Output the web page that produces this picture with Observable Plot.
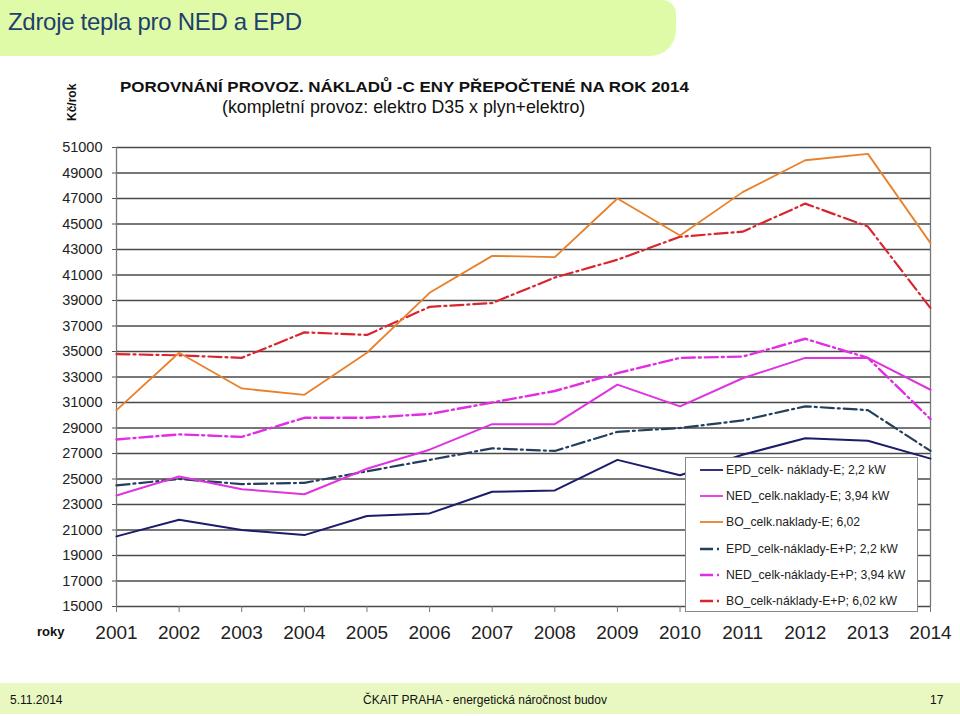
<!DOCTYPE html>
<html>
<head>
<meta charset="utf-8">
<script src="https://cdn.jsdelivr.net/npm/d3@7"></script>
<script src="https://cdn.jsdelivr.net/npm/@observablehq/plot@0.6"></script>
<style>
  html, body { margin: 0; padding: 0; background: #fff; }
  body { width: 960px; height: 716px; position: relative; overflow: hidden; font-family: "Liberation Sans", Arial, sans-serif; }
  #header { position: absolute; left: 0; top: 0; width: 676px; height: 56px; background: #e0fba8; border-radius: 0 14px 26px 0; }
  #header span { position: absolute; left: 8px; top: 8px; font-size: 24px; color: #1f3f6e; letter-spacing: -0.3px; }
  #ctitle { position: absolute; left: 120px; top: 78px; font-size: 15px; font-weight: bold; color: #111; white-space: nowrap; transform: scaleX(1.13); transform-origin: 0 0; }
  #csub { position: absolute; left: 222px; top: 97px; font-size: 17.8px; color: #111; white-space: nowrap; }
  #unit { position: absolute; left: 65px; top: 121px; font-size: 12px; font-weight: bold; color: #111; transform: rotate(-90deg); transform-origin: 0 0; white-space: nowrap; }
  #roky { position: absolute; left: 37px; top: 624px; font-size: 13px; font-weight: bold; color: #111; }
  #chart { position: absolute; left: 0; top: 120px; }
  #legend { position: absolute; left: 685px; top: 457px; width: 233px; height: 155px; background: #fff; border: 1px solid #888; box-sizing: border-box; }
  .row { position: absolute; left: 14px; height: 16px; display: flex; align-items: center; font-size: 12.2px; color: #222; white-space: nowrap; }
  .row svg { margin-right: 2px; }
  #footer { position: absolute; left: 0; top: 683px; width: 960px; height: 31px; background: #e8f8c0; font-size: 12px; color: #111; }
  #footer span { position: absolute; top: 10px; }
</style>
</head>
<body>
<div id="header"><span>Zdroje tepla pro NED a EPD</span></div>
<div id="ctitle">POROVNÁNÍ PROVOZ. NÁKLADŮ -C ENY PŘEPOČTENÉ NA ROK 2014</div>
<div id="csub">(kompletní provoz: elektro D35 x plyn+elektro)</div>
<div id="unit">Kč/rok</div>
<div id="roky">roky</div>
<div id="chart"></div>
<div id="legend"></div>
<div id="footer">
  <span style="left:10px">5.11.2014</span>
  <span style="left:0;width:970px;text-align:center">ČKAIT PRAHA - energetická náročnost budov</span>
  <span style="left:930px">17</span>
</div>
<script>
const years = [2001, 2002, 2003, 2004, 2005, 2006, 2007, 2008, 2009, 2010, 2011, 2012, 2013, 2014];
const yTicks = [15000, 17000, 19000, 21000, 23000, 25000, 27000, 29000, 31000, 33000, 35000, 37000, 39000, 41000, 43000, 45000, 47000, 49000, 51000];

const epdE   = [20500, 21800, 21000, 20600, 22100, 22300, 24000, 24100, 26500, 25300, 26900, 28200, 28000, 26600];
const nedE   = [23700, 25200, 24200, 23800, 25800, 27300, 29300, 29300, 32400, 30700, 32900, 34500, 34500, 32000];
const boE    = [30400, 34900, 32100, 31600, 34900, 39600, 42500, 42400, 47000, 44100, 47500, 50000, 50500, 43500];
const epdEP  = [24500, 25000, 24600, 24700, 25600, 26500, 27400, 27200, 28700, 29000, 29600, 30700, 30400, 27200];
const nedEP  = [28100, 28500, 28300, 29800, 29800, 30100, 31000, 31900, 33300, 34500, 34600, 36000, 34500, 29700];
const boEP   = [34800, 34700, 34500, 36500, 36300, 38500, 38800, 40800, 42200, 44000, 44400, 46600, 44800, 38400];

const seriesNames = [
  "EPD_celk- náklady-E; 2,2 kW",
  "NED_celk.naklady-E; 3,94 kW",
  "BO_celk.naklady-E; 6,02",
  "EPD_celk-náklady-E+P;  2,2 kW",
  "NED_celk-náklady-E+P; 3,94 kW",
  "BO_celk-náklady-E+P; 6,02 kW"
];
const seriesValues = [epdE, nedE, boE, epdEP, nedEP, boEP];
const seriesColors = ["#1c1c6b", "#e033e0", "#e8812c", "#243f5c", "#e22ee2", "#d9262e"];
const seriesDash   = [null, null, null, "13,4,2,4", "13,4,2,4", "13,4,2,4"];
const seriesWidth  = [2, 2, 1.8, 2.2, 2.4, 2.2];

const series = seriesNames.map((name, i) => ({
  name, color: seriesColors[i], dash: seriesDash[i], width: seriesWidth[i],
  data: years.map((year, j) => ({year, value: seriesValues[i][j]}))
}));

const drawOrder = [3, 4, 5, 0, 1, 2];

const chart = Plot.plot({
  width: 960,
  height: 540,
  marginLeft: 116,
  marginRight: 30,
  marginTop: 27,
  marginBottom: 54,
  style: {fontFamily: "'Liberation Sans', Arial, sans-serif", color: "#222", background: "transparent"},
  x: {type: "linear", domain: [d3.min(years), d3.max(years)], ticks: years, tickFormat: d => String(d), label: null},
  y: {domain: [15000, 51000], ticks: yTicks, tickFormat: d => String(d), label: null},
  marks: [
    Plot.gridY(yTicks, {stroke: "#4a4a4a", strokeOpacity: 1, strokeWidth: 1.3}),
    Plot.ruleX([d3.min(years), d3.max(years)], {stroke: "#777", strokeWidth: 1.3}),
    Plot.axisY({ticks: yTicks, tickSize: 4, tickPadding: 10, fontSize: 14.5, stroke: "#555", tickFormat: d => String(d), label: null}),
    Plot.axisX({ticks: years, tickSize: 6, tickPadding: 12.5, fontSize: 19, stroke: "#777", tickFormat: d => String(d), label: null}),
    ...drawOrder.map(i => Plot.line(series[i].data, {
      x: "year", y: "value", stroke: series[i].color, strokeWidth: series[i].width,
      strokeDasharray: series[i].dash || undefined, strokeLinejoin: "round"
    }))
  ]
});
document.getElementById("chart").appendChild(chart);

const legend = document.getElementById("legend");
series.forEach((s, i) => {
  const row = document.createElement("div");
  row.className = "row";
  row.style.top = (4 + i * 26.2) + "px";
  row.innerHTML = `<svg width="24" height="10"><line x1="0" y1="5" x2="23" y2="5" stroke="${s.color}" stroke-width="${s.dash ? 2.4 : 1.8}" ${s.dash ? `stroke-dasharray="${s.dash}"` : ""}/></svg><span>${s.name}</span>`;
  legend.appendChild(row);
});
</script>
</body>
</html>
